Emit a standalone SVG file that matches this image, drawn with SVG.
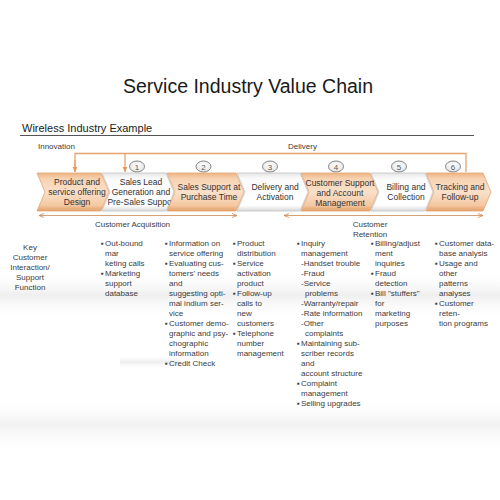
<svg xmlns="http://www.w3.org/2000/svg" width="500" height="500" viewBox="0 0 500 500">
<defs>
<linearGradient id="gOr" x1="0" y1="0" x2="0" y2="1">
<stop offset="0" stop-color="#eeb483"/><stop offset="0.15" stop-color="#f7d2b2"/><stop offset="0.5" stop-color="#fae0c9"/><stop offset="0.85" stop-color="#f4c8a2"/><stop offset="1" stop-color="#e49f68"/>
</linearGradient>
<linearGradient id="gWh" x1="0" y1="0" x2="0" y2="1">
<stop offset="0" stop-color="#e6e6e6"/><stop offset="0.15" stop-color="#fafafa"/><stop offset="0.85" stop-color="#ffffff"/><stop offset="1" stop-color="#d8d8d8"/>
</linearGradient>
<linearGradient id="gBand" x1="0" y1="0" x2="0" y2="1">
<stop offset="0" stop-color="#ffffff" stop-opacity="0"/><stop offset="0.5" stop-color="#e4e4e4"/><stop offset="1" stop-color="#ffffff" stop-opacity="0"/>
</linearGradient>
<radialGradient id="gCirc" cx="0.5" cy="0.4" r="0.6">
<stop offset="0" stop-color="#ffffff"/><stop offset="1" stop-color="#e4e4e4"/>
</radialGradient>
<marker id="aDown" markerWidth="6" markerHeight="6" refX="5" refY="3" orient="auto" markerUnits="userSpaceOnUse">
<path d="M0,0.5 L5,3 L0,5.5 Z" fill="#e39a60"/>
</marker>
<marker id="aEnd" markerWidth="6" markerHeight="6" refX="5" refY="3" orient="auto-start-reverse" markerUnits="userSpaceOnUse">
<path d="M0,1 L5,3 L0,5" fill="none" stroke="#c98a58" stroke-width="0.8"/>
</marker>
<style>
text{font-family:"Liberation Sans",Arial,sans-serif;fill:#3c3c3c}
.t{font-size:19.5px;fill:#1a1a1a}
.sub{font-size:11px;fill:#222}
.lb{font-size:8px}
.cv{font-size:8.5px;text-anchor:middle;fill:#333}
.num{font-size:8px;text-anchor:middle;fill:#555}
.mid{text-anchor:middle}
.or{fill:url(#gOr);stroke:#e2a677;stroke-width:0.8}
.wh{fill:url(#gWh);stroke:#c4c4c4;stroke-width:0.8}
.br{fill:none;stroke:#e7a36c;stroke-width:1.3}
.ar{fill:none;stroke:#c98a58;stroke-width:0.8}
.circ{fill:url(#gCirc);stroke:#777;stroke-width:0.9}
</style>
</defs>
<rect width="500" height="500" fill="#ffffff"/>
<rect x="0" y="270" width="500" height="50" fill="url(#gBand)" opacity="0.6"/>
<rect x="0" y="395" width="500" height="60" fill="url(#gBand)" opacity="0.5"/>
<rect x="120" y="355" width="60" height="14" fill="url(#gBand)" opacity="0.7"/>

<text class="t" x="248" y="93" text-anchor="middle">Service Industry Value Chain</text>
<text class="sub" x="22" y="132">Wireless Industry Example</text>
<line x1="20" y1="135.5" x2="474" y2="135.5" stroke="#555" stroke-width="1.2"/>
<text class="lb" x="38" y="149">Innovation</text>
<text class="lb" x="288" y="149">Delivery</text>

<g id="connectors">
<path class="br" d="M75,172 V153.5 H466 V172"/>
<line class="br" x1="125" y1="153.5" x2="125" y2="172" marker-end="url(#aDown)"/>
<line class="br" x1="75" y1="160" x2="75" y2="172" stroke="none" marker-end="url(#aDown)"/>
<line class="ar" x1="39" y1="215.5" x2="237" y2="215.5" marker-start="url(#aEnd)" marker-end="url(#aEnd)"/>
<line class="ar" x1="284" y1="215.5" x2="483" y2="215.5" marker-start="url(#aEnd)" marker-end="url(#aEnd)"/>
</g>

<g id="step1"><ellipse class="circ" cx="137" cy="166.5" rx="7.5" ry="5.5"/><text class="num" x="137" y="169.5">1</text></g>
<g id="step2"><ellipse class="circ" cx="203.5" cy="166.5" rx="7.5" ry="5.5"/><text class="num" x="203.5" y="169.5">2</text></g>
<g id="step3"><ellipse class="circ" cx="270" cy="166.5" rx="7.5" ry="5.5"/><text class="num" x="270" y="169.5">3</text></g>
<g id="step4"><ellipse class="circ" cx="336" cy="166.5" rx="7.5" ry="5.5"/><text class="num" x="336" y="169.5">4</text></g>
<g id="step5"><ellipse class="circ" cx="399" cy="166.5" rx="7.5" ry="5.5"/><text class="num" x="399" y="169.5">5</text></g>
<g id="step6"><ellipse class="circ" cx="453" cy="166.5" rx="7.5" ry="5.5"/><text class="num" x="453" y="169.5">6</text></g>

<g id="chev-design">
<path class="or" d="M37,173 H101 L109,192 L101,211 H37 L45,192 Z"/>
<text class="cv" x="77" y="185">Product and</text><text class="cv" x="77" y="195">service offering</text><text class="cv" x="77" y="205">Design</text>
</g>
<g id="chev-saleslead">
<path class="wh" d="M102,173 H166 L174,192 L166,211 H102 L110,192 Z"/>
<text class="cv" x="141" y="185">Sales Lead</text><text class="cv" x="141" y="195">Generation and</text><text class="cv" x="141" y="205">Pre-Sales Suppor</text>
</g>
<g id="chev-salessupport">
<path class="or" d="M167,173 H236 L244,192 L236,211 H167 L175,192 Z"/>
<text class="cv" x="209" y="190">Sales Support at</text><text class="cv" x="209" y="200">Purchase Time</text>
</g>
<g id="chev-delivery">
<path class="wh" d="M237,173 H300 L308,192 L300,211 H237 L245,192 Z"/>
<text class="cv" x="275" y="190">Delivery and</text><text class="cv" x="275" y="200">Activation</text>
</g>
<g id="chev-custsupport">
<path class="or" d="M301,173 H370 L378,192 L370,211 H301 L309,192 Z"/>
<text class="cv" x="340" y="186">Customer Support</text><text class="cv" x="340" y="196">and Account</text><text class="cv" x="340" y="206">Management</text>
</g>
<g id="chev-billing">
<path class="wh" d="M371,173 H425 L433,192 L425,211 H371 L379,192 Z"/>
<text class="cv" x="406" y="190">Billing and</text><text class="cv" x="406" y="200">Collection</text>
</g>
<g id="chev-tracking">
<path class="or" d="M426,173 H483 L491,192 L483,211 H426 L434,192 Z"/>
<text class="cv" x="460" y="190">Tracking and</text><text class="cv" x="460" y="200">Follow-up</text>
</g>

<text class="lb mid" x="132.5" y="227">Customer Acquisition</text>
<text class="lb mid" x="370" y="227">Customer</text>
<text class="lb mid" x="370" y="237">Retention</text>

<g id="key-label">
<text class="lb mid" x="30" y="250">Key</text>
<text class="lb mid" x="30" y="260">Customer</text>
<text class="lb mid" x="30" y="270">Interaction/</text>
<text class="lb mid" x="30" y="280">Support</text>
<text class="lb mid" x="30" y="290">Function</text>
</g>

<g id="col-acquisition" class="lb">
<text class="lb"><tspan x="101" y="246">▪</tspan><tspan x="105" y="246">Out-bound</tspan><tspan x="105" y="256">mar</tspan><tspan x="105" y="266">keting calls</tspan><tspan x="101" y="276">▪</tspan><tspan x="105" y="276">Marketing</tspan><tspan x="105" y="286">support</tspan><tspan x="105" y="296">database</tspan></text>
</g>
<g id="col-salessupport">
<text class="lb"><tspan x="165" y="246">▪</tspan><tspan x="169" y="246">Information on</tspan><tspan x="169" y="256">service offering</tspan><tspan x="165" y="266">▪</tspan><tspan x="169" y="266">Evaluating cus-</tspan><tspan x="169" y="276">tomers' needs</tspan><tspan x="169" y="286">and</tspan><tspan x="169" y="296">suggesting opti-</tspan><tspan x="169" y="306">mal indium ser-</tspan><tspan x="169" y="316">vice</tspan><tspan x="165" y="326">▪</tspan><tspan x="169" y="326">Customer demo-</tspan><tspan x="169" y="336">graphic and psy-</tspan><tspan x="169" y="346">chographic</tspan><tspan x="169" y="356">information</tspan><tspan x="165" y="366">▪</tspan><tspan x="169" y="366">Credit Check</tspan></text>
</g>
<g id="col-delivery">
<text class="lb"><tspan x="233" y="246">▪</tspan><tspan x="237" y="246">Product</tspan><tspan x="237" y="256">distribution</tspan><tspan x="233" y="266">▪</tspan><tspan x="237" y="266">Service</tspan><tspan x="237" y="276">activation</tspan><tspan x="237" y="286">product</tspan><tspan x="233" y="296">▪</tspan><tspan x="237" y="296">Follow-up</tspan><tspan x="237" y="306">calls to</tspan><tspan x="237" y="316">new</tspan><tspan x="237" y="326">customers</tspan><tspan x="233" y="336">▪</tspan><tspan x="237" y="336">Telephone</tspan><tspan x="237" y="346">number</tspan><tspan x="237" y="356">management</tspan></text>
</g>
<g id="col-custsupport">
<text class="lb"><tspan x="297" y="246">▪</tspan><tspan x="301" y="246">Inquiry</tspan><tspan x="301" y="256">management</tspan><tspan x="301" y="266">-Handset trouble</tspan><tspan x="301" y="276">-Fraud</tspan><tspan x="301" y="286">-Service</tspan><tspan x="305" y="296">problems</tspan><tspan x="301" y="306">-Warranty/repair</tspan><tspan x="301" y="316">-Rate information</tspan><tspan x="301" y="326">-Other</tspan><tspan x="305" y="336">complaints</tspan><tspan x="297" y="346">▪</tspan><tspan x="301" y="346">Maintaining sub-</tspan><tspan x="301" y="356">scriber records</tspan><tspan x="301" y="366">and</tspan><tspan x="301" y="376">account structure</tspan><tspan x="297" y="386">▪</tspan><tspan x="301" y="386">Complaint</tspan><tspan x="301" y="396">management</tspan><tspan x="297" y="406">▪</tspan><tspan x="301" y="406">Selling upgrades</tspan></text>
</g>
<g id="col-billing">
<text class="lb"><tspan x="371" y="246">▪</tspan><tspan x="375" y="246">Billing/adjust</tspan><tspan x="375" y="256">ment</tspan><tspan x="375" y="266">inquiries</tspan><tspan x="371" y="276">▪</tspan><tspan x="375" y="276">Fraud</tspan><tspan x="375" y="286">detection</tspan><tspan x="371" y="296">▪</tspan><tspan x="375" y="296">Bill "stuffers"</tspan><tspan x="375" y="306">for</tspan><tspan x="375" y="316">marketing</tspan><tspan x="375" y="326">purposes</tspan></text>
</g>
<g id="col-tracking">
<text class="lb"><tspan x="435" y="246">▪</tspan><tspan x="439" y="246">Customer data-</tspan><tspan x="439" y="256">base analysis</tspan><tspan x="435" y="266">▪</tspan><tspan x="439" y="266">Usage and</tspan><tspan x="439" y="276">other</tspan><tspan x="439" y="286">patterns</tspan><tspan x="439" y="296">analyses</tspan><tspan x="435" y="306">▪</tspan><tspan x="439" y="306">Customer</tspan><tspan x="439" y="316">reten-</tspan><tspan x="439" y="326">tion programs</tspan></text>
</g>
</svg>
